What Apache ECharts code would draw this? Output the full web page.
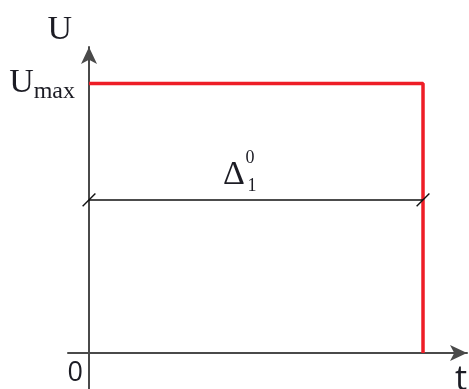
<!DOCTYPE html>
<html>
<head>
<meta charset="utf-8">
<script src="https://cdn.jsdelivr.net/npm/echarts@6/dist/echarts.min.js"></script>
<style>
  html, body { margin: 0; padding: 0; background: #fff; }
  #chart { width: 469px; height: 389px; }
</style>
</head>
<body>
<div id="chart"></div>
<script>
// pulse: U = Umax from t = 0 to t = 1, then drops to 0
const pulseT = [0, 1, 1];
const pulseU = [1, 1, 0];
// dimension line Δ between the two ends of the pulse
const dimT = [0, 1];
const dimU = 0.568;
const dimLabelT = 0.443;
// axis ticks with labels
const xLabelValues = [0];
const yLabelValues = [1];

const serif = "'Liberation Serif', 'DejaVu Serif', serif";
const sans = "'Open Sans', 'Liberation Sans', sans-serif";
const textColor = "#1c1c24";
const axisColor = "#4a4a4a";

const chart = echarts.init(document.getElementById("chart"));

// small helper for the Δ annotation pieces (glyph, superscript, subscript)
function dimText(text, size, offset, distance) {
  return {
    coord: [dimLabelT, dimU],
    label: {
      show: true,
      formatter: text,
      position: "top",
      distance: distance,
      offset: offset,
      fontFamily: serif,
      fontSize: size,
      color: textColor,
    },
  };
}

chart.setOption({
  animation: false,
  backgroundColor: "#fff",
  grid: { left: 68, right: 2, top: 47, bottom: 0, outerBoundsMode: "none", containLabel: false },
  xAxis: {
    type: "value",
    min: -0.0629,
    max: 1.1317,
    splitLine: { show: false },
    axisTick: { show: false },
    axisLine: {
      onZero: true,
      symbol: ["none", "arrow"],
      symbolSize: [12, 17],
      lineStyle: { color: axisColor, width: 2 },
    },
    axisLabel: {
      customValues: xLabelValues,
      formatter: (v) => String(v),
      fontFamily: sans,
      fontSize: 27,
      color: textColor,
      align: "right",
      padding: [0, 6, 0, 0],
      margin: -29,
    },
    name: "t",
    nameLocation: "end",
    nameGap: 0,
    nameTextStyle: {
      fontFamily: sans,
      fontSize: 34,
      color: textColor,
      align: "right",
      verticalAlign: "top",
      padding: [10, 0, 0, 0],
    },
  },
  yAxis: {
    type: "value",
    min: -0.1336,
    max: 1.1354,
    splitLine: { show: false },
    axisTick: { show: false },
    axisLine: {
      onZero: true,
      symbol: ["none", "arrow"],
      symbolSize: [12, 17],
      lineStyle: { color: axisColor, width: 2 },
    },
    axisLabel: {
      customValues: yLabelValues,
      formatter: () => "{u|U}{m|max}",
      margin: -7,
      rich: {
        u: { fontFamily: serif, fontSize: 34, color: textColor },
        m: { fontFamily: serif, fontSize: 24, color: textColor, padding: [16, 0, 0, 0] },
      },
    },
    name: "U",
    nameLocation: "end",
    nameGap: 0,
    nameTextStyle: {
      fontFamily: serif,
      fontSize: 34,
      color: textColor,
      align: "right",
      verticalAlign: "bottom",
      padding: [0, 17, 0, 0],
    },
  },
  series: [
    {
      type: "line",
      data: pulseT.map((t, i) => [t, pulseU[i]]),
      showSymbol: false,
      lineStyle: { color: "#ee1d26", width: 3.5 },
      z: 3,
    },
    {
      type: "line",
      data: dimT.map((t) => [t, dimU]),
      symbol: "rect",
      symbolSize: [1.4, 18],
      symbolRotate: -45,
      itemStyle: { color: "#111" },
      lineStyle: { color: "#111", width: 1.5 },
      z: 4,
      markPoint: {
        symbol: "circle",
        symbolSize: 0,
        data: [
          dimText("Δ", 34, [-3, 0], 8),
          dimText("0", 18, [13, -19], 14),
          dimText("1", 18, [15, 9], 14),
        ],
      },
    },
  ],
});
</script>
</body>
</html>
